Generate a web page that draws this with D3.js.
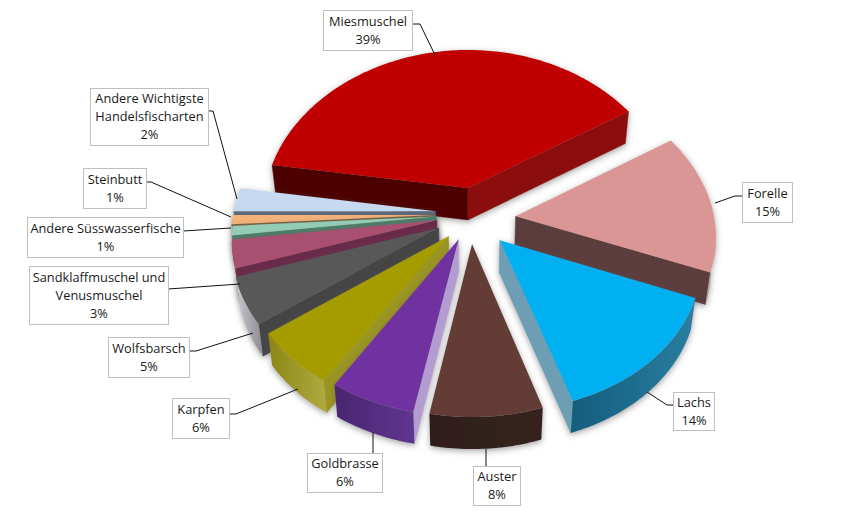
<!DOCTYPE html>
<html><head><meta charset="utf-8">
<script src="https://cdn.jsdelivr.net/npm/d3@7"></script>
<style>html,body{margin:0;background:#fff}svg{display:block}</style>
</head><body><svg id="c" width="858" height="512"></svg>
<script>
// Data
const categories = ["Miesmuschel","Forelle","Lachs","Auster","Goldbrasse","Karpfen","Wolfsbarsch","Sandklaffmuschel und Venusmuschel","Andere Süsswasserfische","Steinbutt","Andere Wichtigste Handelsfischarten"];
const shares = [38.5,15,14,8,6,6,5,3,1,1,2.5];

// Styling
const topColors   = ["#c00000","#d99694","#00b0f0","#633e36","#7030a0","#a59c04","#595959","#a9506f","#93cdb6","#f3b27a","#c6d9f1"];
const startWalls  = ["#4d0000","#8a7070","#6d9eb3","#2f1e1b","#b39dd0","#9b9520","#454545","#6b2c49","#4f7d6b","#7a6240","#5d6b7b"];
const endWalls    = ["#8b0b0b","#5c3d3d","#6d9eb3","#2f1e1b","#b39dd0","#9b9520","#454545","#6b2c49","#4f7d6b","#7a6240","#5d6b7b"];
const arcDark     = ["#5a0000","#a09090","#125d7d","#2f1e1b","#4a2670","#8c8616","#c8c8ce","#8a4a60","#6f9d8b","#b08a5e","#93a3b8"];
const arcLight    = ["#8b0b0b","#c0b4b4","#2a7ea0","#36231f","#5f3590","#b0aa40","#8a8a90","#8a4a60","#6f9d8b","#b08a5e","#93a3b8"];
const explode     = [45,44,37,32,28,31,35,34,34,35,35];
const nudgeX      = [7,2,4,0,-1,0,0,0,0,0,0];
const nudgeV      = [0,1,0,0,0,1,5,7,8,8,9];
const radiusScale = [1.02,0.98,0.97,0.98,1,1,1,1,1,1,1];

// Label layout: box [x0,y0,x1,y1], text lines' centres, leader polyline
const labelBoxes = [[323,10,412,50],[742,182,792,222],[673,392,714,430],[473,466,520,505],[307,453,382,492],[172,398,229,438],[108,337,189,377],[29,266,168,324],[27,217,183,257],[83,168,146,208],[90,88,208,145]];
const labelLines = [["Miesmuschel","39%"],["Forelle","15%"],["Lachs","14%"],["Auster","8%"],["Goldbrasse","6%"],["Karpfen","6%"],["Wolfsbarsch","5%"],["Sandklaffmuschel und","Venusmuschel","3%"],["Andere Süsswasserfische","1%"],["Steinbutt","1%"],["Andere Wichtigste","Handelsfischarten","2%"]];
const leaders = [[[412,24],[420,24],[435,55]],[[742,196],[735,196],[715,203]],[[673,405],[667,405],[647,392]],[[486,466],[486,449]],[[373,453],[373,432]],[[229,414],[236,414],[298,389]],[[189,351],[196,351],[253,333]],[[168,289],[240,284]],[[183,231],[231,228]],[[146,182],[151,182],[231,217]],[[208,111],[213,111],[237,199]]];

// Projection of the tilted pie
const cx=470, cy=220, R=203, tilt=0.74, perspX=0.117, perspFar=0.075, depth=32, converge=0.98;
const project=(u,v)=>{const sx=1/(1+perspX*v/R), sy=1/(1+(v>0?perspFar:perspX)*v/R);return [cx+u*sx, cy-v*tilt*sy];};
const down=p=>[cx+(p[0]-cx)*converge, p[1]+depth];

const svg=d3.select("#c");
const defs=svg.append("defs");
const f=defs.append("filter").attr("id","sh").attr("x","-20%").attr("y","-20%").attr("width","140%").attr("height","140%");
f.append("feDropShadow").attr("dx",0).attr("dy",2).attr("stdDeviation",3).attr("flood-color","#555").attr("flood-opacity",0.55);

const pie=d3.pie().sort(null).startAngle(-81*Math.PI/180).endAngle(279*Math.PI/180);
const arcs=pie(shares);
const line=d3.line();
const order=d3.range(arcs.length).sort((a,b)=>Math.cos((arcs[b].startAngle+arcs[b].endAngle)/2)-Math.cos((arcs[a].startAngle+arcs[a].endAngle)/2));

order.forEach(i=>{
  const a=arcs[i], mid=(a.startAngle+a.endAngle)/2, r=R*radiusScale[i];
  const ox=explode[i]*Math.sin(mid)+nudgeX[i], oy=explode[i]*Math.cos(mid)+nudgeV[i];
  const P=t=>project(ox+r*Math.sin(t), oy+r*Math.cos(t));
  const tip=project(ox,oy);
  const n=Math.max(4,Math.round((a.endAngle-a.startAngle)*60));
  const pts=d3.range(n+1).map(k=>P(a.startAngle+(a.endAngle-a.startAngle)*k/n));
  const g=svg.append("g").attr("filter","url(#sh)");
  const grad=defs.append("linearGradient").attr("id","g"+i);
  grad.append("stop").attr("offset",0).attr("stop-color",arcDark[i]);
  grad.append("stop").attr("offset",1).attr("stop-color",arcLight[i]);
  const wall=(p,q,fill)=>{ if(q[0]-p[0]<0) g.append("path").attr("d",line([p,q,down(q),down(p)])+"Z").attr("fill",fill).attr("stroke",fill).attr("stroke-width",0.5); };
  wall(tip,pts[0],startWalls[i]);
  wall(pts[n],tip,endWalls[i]);
  // outer wall: the run of arc points that faces the viewer
  const run=pts.filter((p,k)=>(k<n&&pts[k+1][0]<p[0])||(k>0&&p[0]<pts[k-1][0]));
  if(run.length>1) g.append("path").attr("d",line(run.concat(run.map(down).reverse()))+"Z").attr("fill",`url(#g${i})`);
  g.append("path").attr("d",line([tip].concat(pts))+"Z").attr("fill",topColors[i]);
});

// Labels
const lab=svg.append("g").attr("font-family","'Open Sans',sans-serif").attr("font-size",12.8).attr("fill","#1a1a1a").attr("text-anchor","middle");
categories.forEach((c,i)=>{
  const b=labelBoxes[i];
  lab.append("path").attr("d",line(leaders[i])).attr("fill","none").attr("stroke","#111").attr("stroke-width",1);
  lab.append("rect").attr("x",b[0]+.5).attr("y",b[1]+.5).attr("width",b[2]-b[0]).attr("height",b[3]-b[1]).attr("fill","#fff").attr("stroke","#bfbfbf");
  const ls=labelLines[i], mx=(b[0]+b[2])/2+.5, my=(b[1]+b[3])/2;
  ls.forEach((t,k)=>lab.append("text").attr("x",mx).attr("y",my+(k-(ls.length-1)/2)*18+4.5).text(t));
});
</script></body></html>
